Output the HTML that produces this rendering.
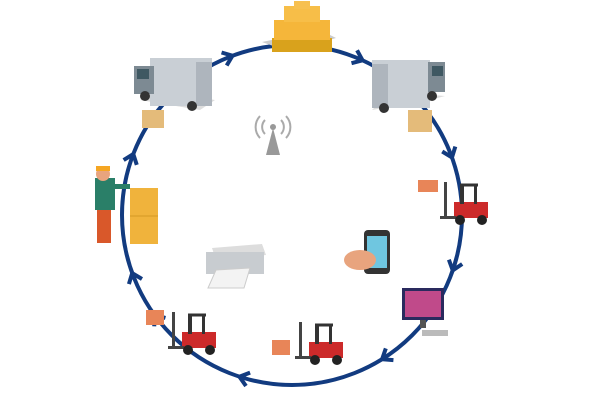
<!DOCTYPE html>
<html><head><style>html,body{margin:0;padding:0;background:#fff}svg{display:block}</style></head>
<body>
<svg width="600" height="400" viewBox="0 0 600 400" xmlns="http://www.w3.org/2000/svg">
<circle cx="292" cy="215" r="170" fill="none" stroke="#123b80" stroke-width="4"/>
<g fill="none" stroke="#123b80" stroke-width="4" stroke-linejoin="miter">
<g transform="rotate(-111.5 292 215) translate(462 215) rotate(90)"><path d="M-6,-7 L3,0 L-6,7"/></g>
<g transform="rotate(-66.5 292 215) translate(462 215) rotate(90)"><path d="M-6,-7 L3,0 L-6,7"/></g>
<g transform="rotate(-20.8 292 215) translate(462 215) rotate(90)"><path d="M-6,-7 L3,0 L-6,7"/></g>
<g transform="rotate(18 292 215) translate(462 215) rotate(90)"><path d="M-6,-7 L3,0 L-6,7"/></g>
<g transform="rotate(57 292 215) translate(462 215) rotate(90)"><path d="M-6,-7 L3,0 L-6,7"/></g>
<g transform="rotate(107 292 215) translate(462 215) rotate(90)"><path d="M-6,-7 L3,0 L-6,7"/></g>
<g transform="rotate(143 292 215) translate(462 215) rotate(90)"><path d="M-6,-7 L3,0 L-6,7"/></g>
<g transform="rotate(159 292 215) translate(462 215) rotate(90)"><path d="M-6,-7 L3,0 L-6,7"/></g>
<g transform="rotate(200 292 215) translate(462 215) rotate(90)"><path d="M-6,-7 L3,0 L-6,7"/></g>
</g>
<!-- pallet boxes -->
<polygon points="262,42 290,52 336,38 320,30" fill="#ccc"/>
<rect x="272" y="38" width="60" height="14" fill="#d9a21c"/>
<rect x="274" y="20" width="56" height="20" fill="#f5b63a"/>
<rect x="284" y="6" width="36" height="16" fill="#f7be48"/>
<rect x="294" y="1" width="16" height="8" fill="#f7c050"/>
<!-- left truck -->
<polygon points="140,100 200,110 215,100 160,92" fill="#ddd"/>
<rect x="150" y="58" width="62" height="48" fill="#c9cfd5"/>
<rect x="196" y="62" width="16" height="44" fill="#aeb5bd"/>
<rect x="134" y="66" width="20" height="28" fill="#7d8a93"/>
<rect x="137" y="69" width="12" height="10" fill="#3f5862"/>
<circle cx="145" cy="96" r="5" fill="#333"/><circle cx="192" cy="106" r="5" fill="#333"/>
<rect x="142" y="110" width="22" height="18" fill="#e4bb7a"/>
<!-- right truck -->
<polygon points="372,110 430,100 445,96 390,92" fill="#ddd"/>
<rect x="372" y="60" width="58" height="48" fill="#c9cfd5"/>
<rect x="372" y="64" width="16" height="44" fill="#aeb5bd"/>
<rect x="428" y="62" width="17" height="30" fill="#7d8a93"/>
<rect x="432" y="66" width="11" height="10" fill="#3f5862"/>
<circle cx="384" cy="108" r="5" fill="#333"/><circle cx="432" cy="96" r="5" fill="#333"/>
<rect x="408" y="110" width="24" height="22" fill="#e4bb7a"/>
<!-- antenna -->
<g fill="none" stroke="#aaa" stroke-width="2">
<path d="M265,120 a10,10 0 0 0 0,14"/><path d="M281,120 a10,10 0 0 1 0,14"/>
<path d="M260,116 a16,16 0 0 0 0,22"/><path d="M286,116 a16,16 0 0 1 0,22"/>
</g>
<circle cx="273" cy="127" r="3" fill="#999"/>
<polygon points="273,128 266,155 280,155" fill="#999"/>
<!-- worker -->
<rect x="95" y="178" width="20" height="32" fill="#2a7f68"/>
<rect x="97" y="210" width="14" height="33" fill="#d9582a"/>
<circle cx="103" cy="174" r="7" fill="#e8a47e"/>
<rect x="96" y="166" width="14" height="5" fill="#f5a623"/>
<rect x="112" y="184" width="18" height="5" fill="#2a7f68"/>
<rect x="130" y="188" width="28" height="56" fill="#f0b33c"/>
<line x1="130" y1="216" x2="158" y2="216" stroke="#d49a25"/>
<!-- forklifts -->
<g id="fk" transform="translate(440,182)">
<rect x="14" y="20" width="34" height="16" fill="#cc2a2a"/>
<rect x="20" y="2" width="4" height="20" fill="#333"/>
<rect x="34" y="4" width="3" height="18" fill="#333"/>
<path d="M20,3 L38,3" stroke="#333" stroke-width="3"/>
<rect x="4" y="0" width="3" height="36" fill="#444"/>
<rect x="0" y="34" width="16" height="3" fill="#444"/>
<circle cx="20" cy="38" r="5" fill="#222"/><circle cx="42" cy="38" r="5" fill="#222"/>
</g>
<rect x="418" y="180" width="20" height="12" fill="#e88558"/>
<use href="#fk" transform="translate(-145,140)"/>
<rect x="272" y="340" width="18" height="15" fill="#e88558"/>
<use href="#fk" transform="translate(-272,130)"/>
<rect x="146" y="310" width="18" height="15" fill="#e88558"/>
<!-- printer -->
<polygon points="212,248 262,244 266,255 216,260" fill="#ddd"/>
<rect x="206" y="252" width="58" height="22" fill="#c8ccd0"/>
<polygon points="216,270 250,268 244,288 208,288" fill="#f3f3f3" stroke="#ccc"/>
<!-- phone -->
<rect x="364" y="230" width="26" height="44" rx="4" fill="#333"/>
<rect x="367" y="236" width="20" height="32" fill="#6fc6e0"/>
<ellipse cx="360" cy="260" rx="16" ry="10" fill="#e8a47e"/>
<!-- monitor -->
<rect x="402" y="288" width="42" height="32" fill="#2a2a5e"/>
<rect x="405" y="291" width="36" height="26" fill="#c04a8a"/>
<rect x="420" y="320" width="6" height="8" fill="#555"/>
<rect x="422" y="330" width="26" height="6" fill="#bbb"/>
</svg>
</body></html>
